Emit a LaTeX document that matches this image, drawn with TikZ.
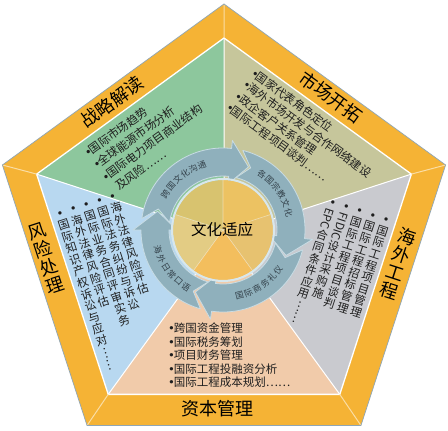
\documentclass[tikz,border=0pt]{standalone}
\usepackage{graphicx}
\usepackage{fontspec}
\setmainfont{Noto Sans CJK SC}
\newfontfamily\dejavu{DejaVu Sans}
\usetikzlibrary{calc}
\definecolor{bandc}{HTML}{F5B335}
\definecolor{edgec}{HTML}{8FA6B6}
\definecolor{greenc}{HTML}{8DC79D}
\definecolor{olivec}{HTML}{C6C69B}
\definecolor{grayc}{HTML}{C9CACF}
\definecolor{peachc}{HTML}{F1CBAA}
\definecolor{bluec}{HTML}{B8D8F0}
\definecolor{arrowc}{HTML}{8FB0BC}
\definecolor{arrowedge}{HTML}{C8DCE4}
\definecolor{wTL}{HTML}{D8C36F}
\definecolor{wTR}{HTML}{ECC262}
\definecolor{wR}{HTML}{E7C270}
\definecolor{wB}{HTML}{F3BE5D}
\definecolor{wL}{HTML}{E3CC84}
\definecolor{txt}{HTML}{1E1E1E}
\definecolor{alab}{HTML}{33414A}
\newcommand\vcolloop[1]{\ifx\relax#1\else\hbox to 1em{\hss#1\hss\vrule height .88em depth .12em width 0pt}\expandafter\vcolloop\fi}
\newcommand\vcol[1]{\vbox{\baselineskip=1.06em\lineskip=1pt\lineskiplimit=0pt\vcolloop#1\relax}}
\newcommand\lat[1]{\raisebox{.82em}{\rotatebox{-90}{#1}}}
\newcommand\vb{{\dejavu •}}
\newcommand\bul{\makebox[.5em][l]{\dejavu •}}
\newcommand\ringarrow[4]{%
  \filldraw[arrowsty] (#1:82) arc[start angle=#1,end angle=#3,radius=82] -- (#3:90) -- (#4:68) -- (#3:46) -- (#3:54) arc[start angle=#3,end angle=#1,radius=54] -- (#2:68) -- cycle;}
\begin{document}
\begin{tikzpicture}[x=1pt,y=1pt,
  stxt/.style={font=\fontsize{11.5}{12}\selectfont, text=txt, inner sep=0pt},
  blab/.style={font=\fontsize{18}{18}\selectfont, text=black, inner sep=0pt},
  alabsty/.style={font=\fontsize{8.5}{8.5}\selectfont, text=alab, inner sep=0pt},
  arrowsty/.style={fill=arrowc, draw=arrowedge, line width=0.8pt, line join=round},
  divider/.style={draw=white, line width=1pt}]
\useasboundingbox (0,0) rectangle (448,431);
\fill[white] (0,0) rectangle (448,431);
% pentagon points
\coordinate (S) at (224,196);
\coordinate (O1) at (224,427);
\coordinate (O2) at (2.4,266);
\coordinate (O3) at (87.05,5.5);
\coordinate (O4) at (360.95,5.5);
\coordinate (O5) at (445.6,266);
\coordinate (I1) at (224,393);
\coordinate (I2) at (36.64,256.88);
\coordinate (I3) at (108.21,36.62);
\coordinate (I4) at (339.79,36.62);
\coordinate (I5) at (411.36,256.88);
% sectors
\fill[greenc] (S) -- (I2) -- (I1) -- cycle;
\fill[olivec] (S) -- (I1) -- (I5) -- cycle;
\fill[grayc] (S) -- (I5) -- (I4) -- cycle;
\fill[peachc] (S) -- (I4) -- (I3) -- cycle;
\fill[bluec] (S) -- (I3) -- (I2) -- cycle;
\draw[divider] (S) -- (I1) (S) -- (I2) (S) -- (I3) (S) -- (I4) (S) -- (I5);
% band
\fill[bandc, even odd rule] (O1) -- (O2) -- (O3) -- (O4) -- (O5) -- cycle (I1) -- (I2) -- (I3) -- (I4) -- (I5) -- cycle;
\draw[white, line width=1.3pt, line join=miter] (I1) -- (I2) -- (I3) -- (I4) -- (I5) -- cycle;
\draw[white!55!bandc, line width=1pt] (I1) -- (O1) (I2) -- (O2) (I3) -- (O3) (I4) -- (O4) (I5) -- (O5);
\draw[edgec, line width=0.7pt, line join=miter] (O1) -- (O2) -- (O3) -- (O4) -- (O5) -- cycle;
% green text
\begin{scope}[every node/.append style={stxt, anchor=base west, rotate=36}]
\node (g1) at (88,273) {\bul 国际市场趋势};
\node (g2) at (96.8,260.9) {\bul 全球能源市场分析};
\node (g3) at (105.6,248.8) {\bul 国际电力项目商业结构};
\node (g4) at (114.5,236.7) {\hspace{.5em}及风险……};
\end{scope}
% olive text
\begin{scope}[every node/.append style={stxt, anchor=base west, rotate=-36}]
\node (o1) at (250,356) {\bul 国家代表角色定位};
\node (o2) at (241.65,344.5) {\bul 海外市场开发与合作网络建设};
\node (o3) at (233.3,333) {\bul 政企客户关系管理};
\node (o4) at (225,321.5) {\bul 国际工程项目谈判……};
\end{scope}
% peach text
\begin{scope}[every node/.append style={stxt, anchor=base west}]
\node (p1) at (168,98) {\bul 跨国资金管理};
\node (p2) at (168,84.5) {\bul 国际税务筹划};
\node (p3) at (168,71) {\bul 项目财务管理};
\node (p4) at (168,57.5) {\bul 国际工程投融资分析};
\node (p5) at (168,44) {\bul 国际工程成本规划……};
\end{scope}
% blue columns
\begin{scope}[shift={(58.2,223.7)}, rotate=18, every node/.append style={stxt, anchor=north, rotate=18}]
\node (b5) at (0,0) {\vcol{\vb 国际知识产权诉讼与应对{\lat{……}}}};
\node (b4) at (13.8,0) {\vcol{\vb 海外法律风险评估}};
\node (b3) at (27.6,0) {\vcol{\vb 国际业务合同评审实务}};
\node (b2) at (41.4,0) {\vcol{\vb 国际法务纠纷与诉讼}};
\node (b1) at (55.2,0) {\vcol{\vb 海外法律风险评估}};
\end{scope}
% gray columns
\begin{scope}[shift={(334.9,234.7)}, rotate=-18, every node/.append style={stxt, anchor=north, rotate=-18}]
\node (c5) at (0,0) {\vcol{\vb{\lat{EPC}}合同条件应用{\lat{……}}}};
\node (c4) at (14,0) {\vcol{\vb{\lat{FIDIC}}设计采购施}};
\node (c3) at (28,0) {\vcol{\vb 国际工程项目谈判}};
\node (c2) at (42,0) {\vcol{\vb 国际工程招标管理}};
\node (c1) at (56,0) {\vcol{\vb 国际工程项目管理}};
\end{scope}
% ring arrows and center circle
\begin{scope}[shift={(223,201)}]
\ringarrow{172}{162}{84}{68}
\ringarrow{76}{66}{-6}{-22}
\ringarrow{-14}{-24}{-98}{-114}
\ringarrow{-106}{-116}{-180}{-196}
\fill[wTL] (0,0) -- (90:50) arc[start angle=90,end angle=162,radius=50] -- cycle;
\fill[wL] (0,0) -- (162:50) arc[start angle=162,end angle=234,radius=50] -- cycle;
\fill[wB] (0,0) -- (234:50) arc[start angle=234,end angle=306,radius=50] -- cycle;
\fill[wR] (0,0) -- (306:50) arc[start angle=306,end angle=378,radius=50] -- cycle;
\fill[wTR] (0,0) -- (18:50) arc[start angle=18,end angle=90,radius=50] -- cycle;
\draw[white, opacity=0.45, line width=0.6pt] (0,0) -- (90:50) (0,0) -- (162:50) (0,0) -- (234:50) (0,0) -- (306:50) (0,0) -- (18:50);
\draw[arrowedge!70!white, line width=2pt] (0,0) circle[radius=51];
\node[font=\fontsize{15.5}{15.5}\selectfont, text=black, inner sep=0pt] (ctr) at (-1,0) {文化适应};
\foreach \ch [count=\i] in {跨,国,文,化,沟,通} {
  \pgfmathsetmacro\ang{128+2.5*8-(\i-1)*8}
  \node[alabsty, rotate=\ang-90] (la\i) at (\ang:68) {\ch};
}
\foreach \ch [count=\i] in {各,国,宗,教,文,化} {
  \pgfmathsetmacro\ang{35+2.5*8-(\i-1)*8}
  \node[alabsty, rotate=\ang-90] (lb\i) at (\ang:68) {\ch};
}
\foreach \ch [count=\i] in {国,际,商,务,礼,仪} {
  \pgfmathsetmacro\ang{-56-2.5*8+(\i-1)*8}
  \node[alabsty, rotate=\ang+90] (lc\i) at (\ang:68) {\ch};
}
\foreach \ch [count=\i] in {海,外,日,常,口,语} {
  \pgfmathsetmacro\ang{-143-2.5*8+(\i-1)*8}
  \node[alabsty, rotate=\ang+90] (ld\i) at (\ang:68) {\ch};
}
\end{scope}
% band labels
\node[blab, rotate=36] (bl1) at (112,329) {战略解读};
\node[blab, rotate=-36] (bl2) at (331,334) {市场开拓};
\node[blab, rotate=-18] (bl3) at (398,167) {\vcol{海外工程}};
\node[blab] (bl4) at (217,22) {资本管理};
\node[blab, rotate=18] (bl5) at (46,173) {\vcol{风险处理}};
\end{tikzpicture}
\end{document}
